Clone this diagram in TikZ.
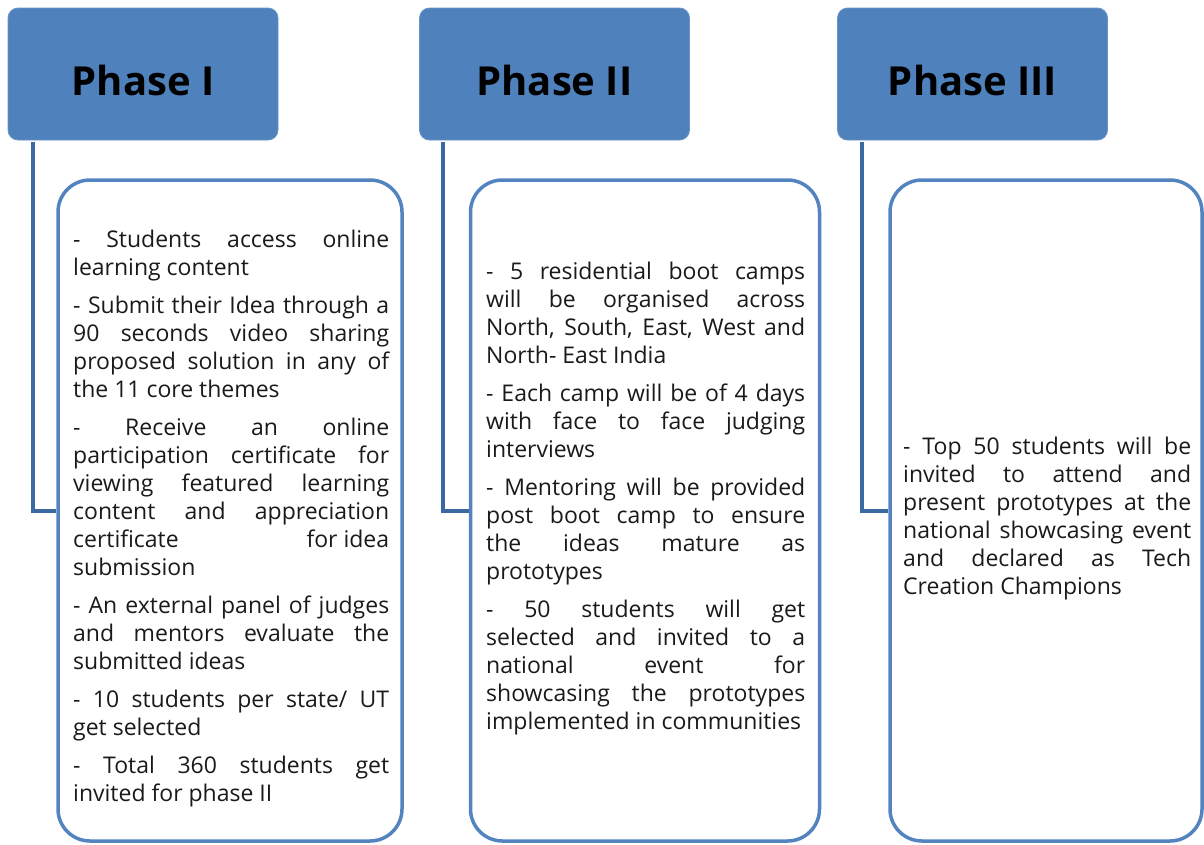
\documentclass[tikz,border=0pt]{standalone}
\usepackage{fontspec}
\setmainfont{Open Sans}
\definecolor{hdrfill}{HTML}{4F81BD}
\definecolor{boxline}{HTML}{5384C0}
\definecolor{connline}{HTML}{3D69A3}
\definecolor{bodyink}{HTML}{1A1A1A}
\newcommand\bodytext[2]{\parbox[t]{#1}{\fontsize{23}{28.1}\selectfont\parindent=0pt\parskip=9.8pt\tolerance=10000\hbadness=10000\hyphenpenalty=10000\exhyphenpenalty=10000\emergencystretch=0pt #2}}
\tikzset{
  hdr/.style={draw=hdrfill!85!white, line width=0.8pt, fill=hdrfill, rounded corners=10pt, minimum width=270pt, minimum height=132pt, inner sep=0pt},
  hdrlabel/.style={anchor=base, inner sep=0pt, font=\fontsize{40}{48}\selectfont\bfseries, text=black},
  cbox/.style={draw=boxline, line width=3.5pt, fill=white, rounded corners=32pt, minimum height=661pt, inner sep=0pt},
  conn/.style={draw=connline, line width=4pt},
  bodynode/.style={anchor=base west, inner sep=0pt, text=bodyink}
}
\begin{document}
\begin{tikzpicture}[x=1pt,y=-1pt]
\useasboundingbox (0,0) rectangle (1204,844);
% headers
\node[hdr] (h1) at (143,74) {};
\node[hdr] (h2) at (554.5,74) {};
\node[hdr] (h3) at (972.5,74) {};
\node[hdrlabel] (l1) at (143,95) {Phase I};
\node[hdrlabel] (l2) at (554.5,95) {Phase II};
\node[hdrlabel] (l3) at (972.5,95) {Phase III};
% content boxes
\node[cbox, minimum width=344pt] (c1) at (230,510.5) {};
\node[cbox, minimum width=349pt] (c2) at (645,510.5) {};
\node[cbox, minimum width=312pt] (c3) at (1046,510.5) {};
% connectors
\coordinate (s1) at (32.5,142);
\coordinate (s2) at (443,142);
\coordinate (s3) at (862,142);
\draw[conn] (s1) |- (c1.west);
\draw[conn] (s2) |- (c2.west);
\draw[conn] (s3) |- (c3.west);
% texts
\node[bodynode] (t1) at (73,247) {\bodytext{316pt}{%
- Students access online\linebreak learning content\par
- Submit their Idea through a\linebreak 90 seconds video sharing\linebreak proposed solution in any of\linebreak the 11 core themes\par
- Receive an online\linebreak participation certificate for\linebreak viewing featured learning\linebreak content and appreciation\linebreak certificate \mbox{for idea}\linebreak submission\par
- An external panel of judges\linebreak and mentors evaluate the\linebreak submitted ideas\par
- 10 students per state/ UT\linebreak get selected\par
- Total 360 students get\linebreak invited for phase II}};
\node[bodynode] (t2) at (486,279) {\bodytext{319pt}{%
- 5 residential boot camps\linebreak will be organised across\linebreak North, South, East, West and\linebreak North- East India\par
- Each camp will be of 4 days\linebreak with face to face judging\linebreak interviews\par
- Mentoring will be provided\linebreak post boot camp to ensure\linebreak the ideas mature as\linebreak prototypes\par
- 50 students will get\linebreak selected and invited to a\linebreak national event for\linebreak showcasing the prototypes\linebreak implemented in communities}};
\node[bodynode] (t3) at (903,454) {\bodytext{288pt}{%
- Top 50 students will be\linebreak invited to attend and\linebreak present prototypes at the\linebreak national showcasing event\linebreak and declared as Tech\linebreak Creation Champions}};
\end{tikzpicture}
\end{document}
